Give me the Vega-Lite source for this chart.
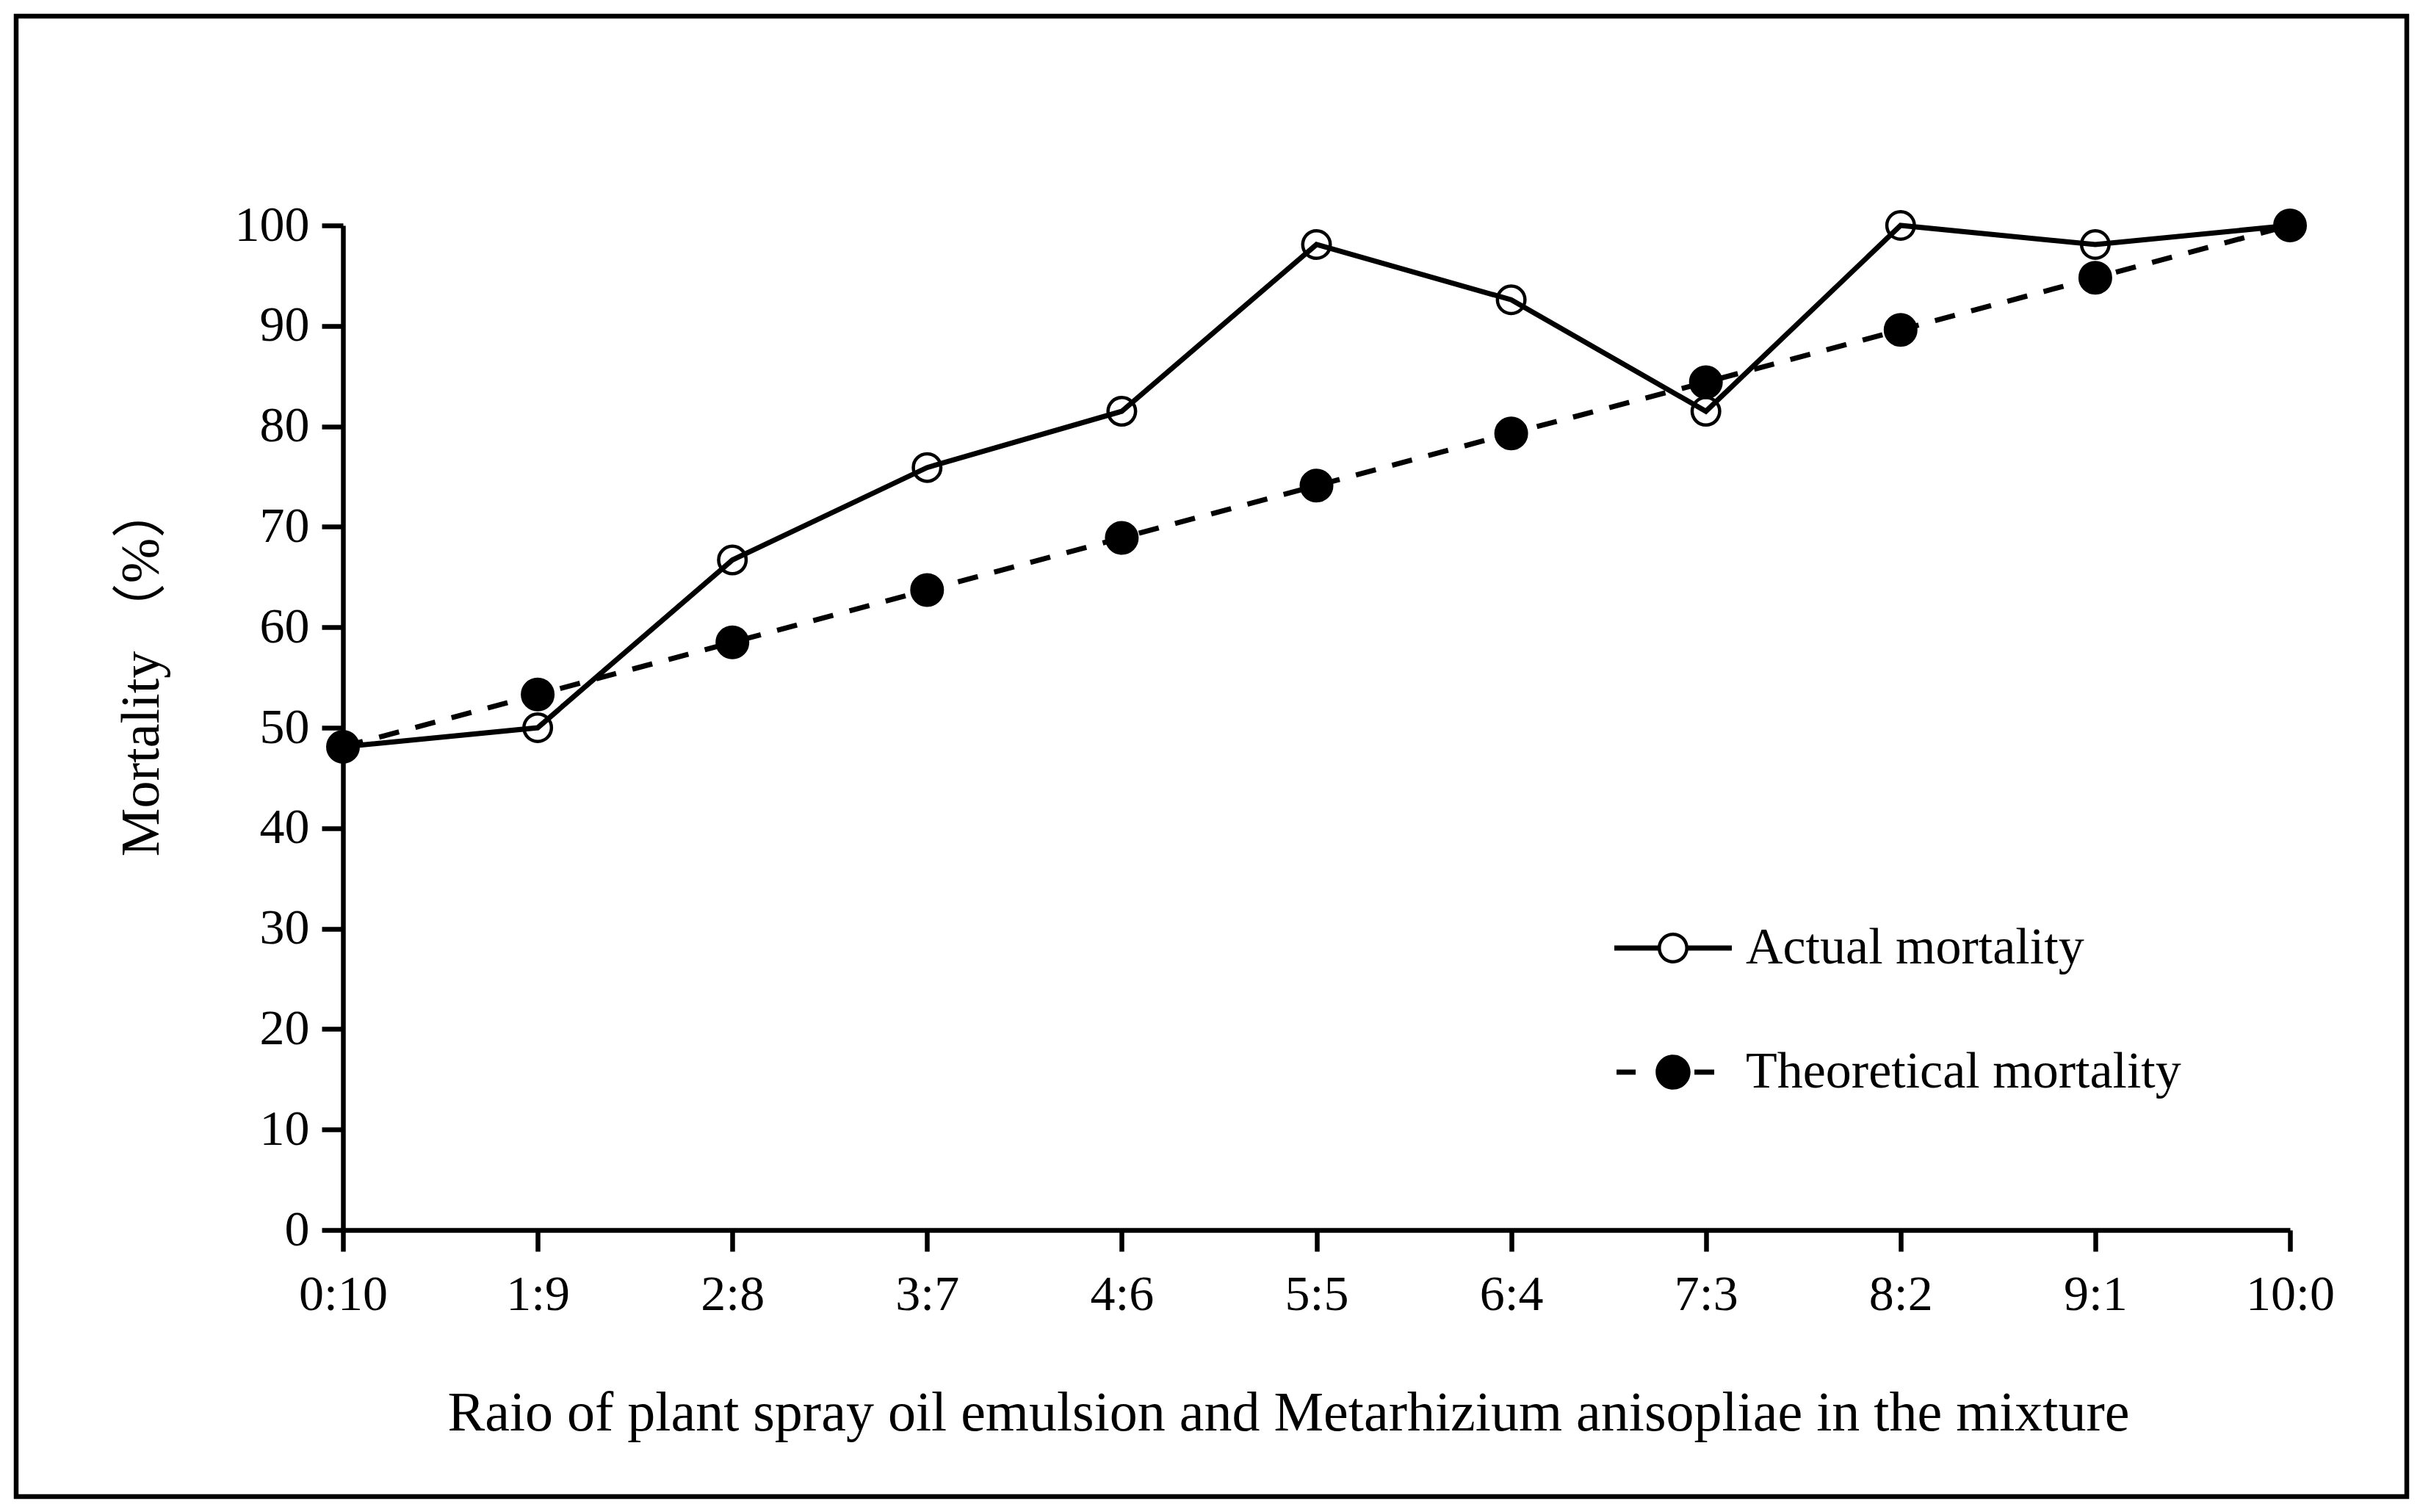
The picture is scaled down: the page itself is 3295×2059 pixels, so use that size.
{
  "$schema": "https://vega.github.io/schema/vega-lite/v6.json",
  "autosize": {"type": "none"},
  "padding": {"left": 22, "top": 22, "right": 18, "bottom": 21},
  "width": 3255,
  "height": 2016,
  "background": "white",
  "config": {
    "view": {"stroke": "black", "strokeWidth": 6.5, "fill": "white"},
    "font": "Liberation Serif",
    "axis": {
      "domainColor": "black",
      "domainWidth": 6.5,
      "tickColor": "black",
      "tickWidth": 6.5,
      "tickSize": 29,
      "grid": false,
      "labelFont": "Liberation Serif",
      "labelFontSize": 68,
      "labelColor": "black",
      "titleFont": "Liberation Serif",
      "titleFontSize": 68,
      "titleFontWeight": "normal",
      "titleColor": "black"
    }
  },
  "data": {
    "values": [
      {"ratio": "0:10", "series": "Actual mortality", "mortality": 48.1},
      {"ratio": "1:9", "series": "Actual mortality", "mortality": 50.0},
      {"ratio": "2:8", "series": "Actual mortality", "mortality": 66.7},
      {"ratio": "3:7", "series": "Actual mortality", "mortality": 75.9},
      {"ratio": "4:6", "series": "Actual mortality", "mortality": 81.5},
      {"ratio": "5:5", "series": "Actual mortality", "mortality": 98.1},
      {"ratio": "6:4", "series": "Actual mortality", "mortality": 92.6},
      {"ratio": "7:3", "series": "Actual mortality", "mortality": 81.5},
      {"ratio": "8:2", "series": "Actual mortality", "mortality": 100.0},
      {"ratio": "9:1", "series": "Actual mortality", "mortality": 98.1},
      {"ratio": "10:0", "series": "Actual mortality", "mortality": 100.0},
      {"ratio": "0:10", "series": "Theoretical mortality", "mortality": 48.1},
      {"ratio": "1:9", "series": "Theoretical mortality", "mortality": 53.3},
      {"ratio": "2:8", "series": "Theoretical mortality", "mortality": 58.5},
      {"ratio": "3:7", "series": "Theoretical mortality", "mortality": 63.7},
      {"ratio": "4:6", "series": "Theoretical mortality", "mortality": 68.9},
      {"ratio": "5:5", "series": "Theoretical mortality", "mortality": 74.1},
      {"ratio": "6:4", "series": "Theoretical mortality", "mortality": 79.3},
      {"ratio": "7:3", "series": "Theoretical mortality", "mortality": 84.4},
      {"ratio": "8:2", "series": "Theoretical mortality", "mortality": 89.6},
      {"ratio": "9:1", "series": "Theoretical mortality", "mortality": 94.8},
      {"ratio": "10:0", "series": "Theoretical mortality", "mortality": 100.0}
    ]
  },
  "encoding": {
    "x": {
      "field": "ratio",
      "type": "ordinal",
      "sort": null,
      "scale": {"type": "point", "padding": 0, "range": [445, 3096]},
      "axis": {
        "title": "Raio of plant spray oil emulsion and Metarhizium anisopliae in the mixture",
        "titleFontSize": 76,
        "offset": -363,
        "labelAngle": 0,
        "labelPadding": 25,
        "titlePadding": 90,
        "titleX": 1732
      }
    },
    "y": {
      "field": "mortality",
      "type": "quantitative",
      "scale": {"domain": [0, 100], "nice": false, "zero": true, "range": [1653, 285]},
      "axis": {
        "title": "Mortality （%）",
        "titleFont": "Liberation Serif, Noto Sans CJK SC",
        "titleFontSize": 74,
        "offset": -445,
        "values": [0, 10, 20, 30, 40, 50, 60, 70, 80, 90, 100],
        "labelPadding": 17,
        "titlePadding": 88,
        "titleY": 890
      }
    }
  },
  "layer": [
    {
      "transform": [{"filter": "datum.series === 'Actual mortality'"}],
      "mark": {"type": "line", "color": "black", "strokeWidth": 7, "strokeCap": "butt", "strokeJoin": "miter"}
    },
    {
      "transform": [{"filter": "datum.series === 'Theoretical mortality'"}],
      "mark": {"type": "line", "color": "black", "strokeWidth": 7, "strokeCap": "butt", "strokeDash": [28, 23]}
    },
    {
      "transform": [{"filter": "datum.series === 'Actual mortality'"}],
      "mark": {"type": "point", "shape": "circle", "filled": false, "stroke": "black", "strokeWidth": 4.5, "size": 1406, "opacity": 1}
    },
    {
      "transform": [{"filter": "datum.series === 'Theoretical mortality'"}],
      "mark": {"type": "point", "shape": "circle", "filled": true, "fill": "black", "stroke": "black", "strokeWidth": 4.5, "size": 1722, "opacity": 1}
    },
    {
      "transform": [{"filter": "false"}],
      "mark": {"type": "point", "filled": true, "color": "black", "strokeWidth": 0, "size": 1444, "opacity": 1},
      "encoding": {
        "shape": {
          "field": "series",
          "type": "nominal",
          "scale": {
            "domain": ["Actual mortality", "Theoretical mortality"],
            "range": [
              "M-4.21,-0.184H-1.0V0.184H-4.21Z M1.0,-0.184H4.21V0.184H1.0Z M-1.105,0A1.105,1.105 0 1,1 1.105,0A1.105,1.105 0 1,1 -1.105,0Z M-0.868,0A0.868,0.868 0 1,0 0.868,0A0.868,0.868 0 1,0 -0.868,0Z",
              "M-4.05,-0.184H-2.68V0.184H-4.05Z M1.53,-0.184H2.95V0.184H1.53Z M-1.25,0A1.25,1.25 0 1,1 1.25,0A1.25,1.25 0 1,1 -1.25,0Z"
            ]
          },
          "legend": {
            "title": null,
            "orient": "none",
            "legendX": 2221,
            "legendY": 1234,
            "padding": 0,
            "symbolSize": 1444,
            "symbolStrokeWidth": 0,
            "symbolFillColor": "black",
            "symbolOpacity": 1,
            "labelFont": "Liberation Serif",
            "labelFontSize": 70,
            "labelColor": "black",
            "labelOffset": 64,
            "rowPadding": 99,
            "labelLimit": 2000
          }
        }
      }
    }
  ]
}
